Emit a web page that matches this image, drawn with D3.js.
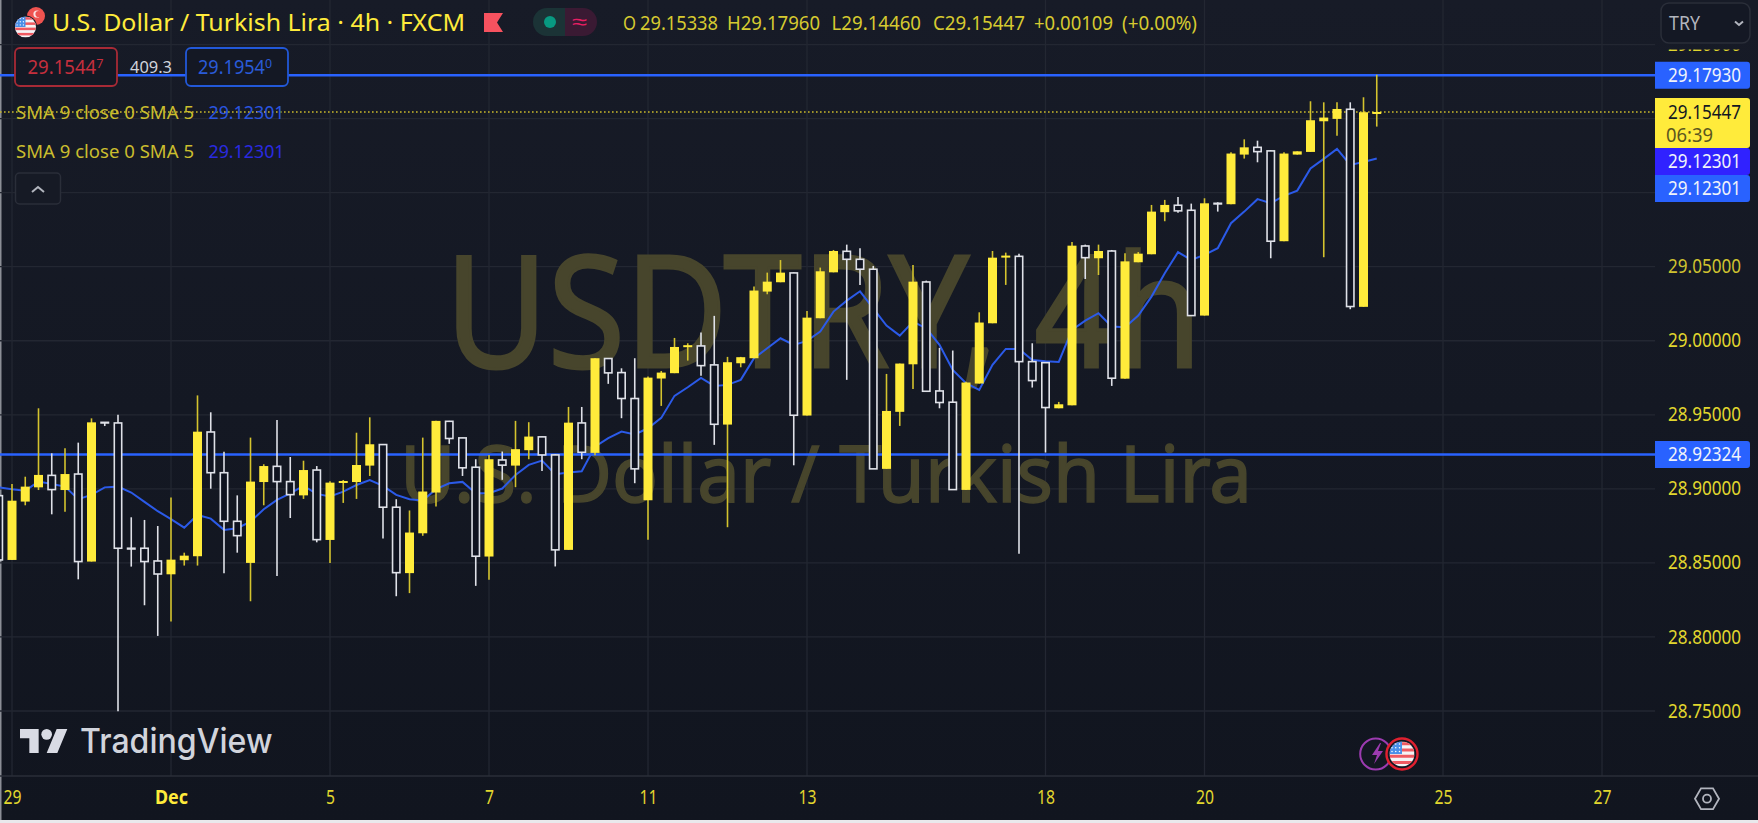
<!DOCTYPE html>
<html><head><meta charset="utf-8">
<script src="https://cdn.jsdelivr.net/npm/d3@7/dist/d3.min.js"></script>
<style>html,body{margin:0;padding:0;background:#e9e9ec;overflow:hidden}svg{display:block}text{font-family:"Noto Sans",sans-serif}</style>
</head><body><svg id="c" width="1758" height="823"></svg>
<script>
const firstBar=-1;
const opens=[28.8954,28.8520,28.8914,28.9010,28.9091,28.8992,28.9100,28.8509,28.9449,28.9445,
28.8599,28.8599,28.8513,28.8423,28.8518,28.8545,28.9384,28.9109,28.8781,28.8500,
28.9046,28.9152,28.9049,28.8956,28.9127,28.8655,28.9046,28.9046,28.9157,28.9299,
28.8876,28.8431,28.8700,28.8975,28.9456,28.9344,28.9146,28.8543,28.9195,28.9157,
28.9261,28.9351,28.9229,28.8588,28.9445,28.9243,28.9880,28.9785,28.9610,28.8923,
28.9745,28.9781,28.9965,28.9965,28.9837,28.9434,28.9848,28.9882,29.0332,29.0395,
29.0458,28.9495,29.0152,29.0462,29.0604,29.0550,29.0483,28.9135,28.9520,28.9841,
29.0397,28.9661,28.9585,28.8993,28.9711,29.0118,29.0568,29.0570,28.9859,28.9852,
28.9544,28.9564,29.0640,29.0557,29.0606,28.9744,29.0530,29.0584,29.0868,29.0915,
29.0881,29.0170,29.0928,29.0922,29.1257,29.1306,29.1282,29.0672,29.1257,29.1275,
29.1482,29.1498,29.1563,29.0229,29.15338];
const highs=[28.8954,28.9033,28.9082,28.9544,28.9240,28.9274,28.9312,28.9476,28.9449,28.9501,
28.8808,28.8790,28.8749,28.8941,28.8569,28.9631,28.9517,28.9251,28.8956,28.9346,
28.9166,28.9465,28.9215,28.9190,28.9154,28.9051,28.9060,28.9379,28.9483,28.9303,
28.8930,28.8854,28.9346,28.9459,28.9459,28.9346,28.9200,28.9229,28.9252,28.9459,
28.9450,28.9353,28.9234,28.9553,28.9553,28.9882,28.9882,28.9814,28.9882,28.9758,
28.9796,29.0019,28.9983,29.0055,29.0168,28.9891,28.9891,29.0366,29.0460,29.0545,
29.0462,29.0201,29.0494,29.0613,29.0649,29.0624,29.0505,28.9776,28.9846,29.0512,
29.0406,28.9952,28.9934,28.9724,29.0192,29.0606,29.0595,29.0588,28.9983,28.9855,
28.9587,29.0667,29.0649,29.0649,29.0613,29.0590,29.0599,29.0917,29.0951,29.0971,
29.0926,29.0962,29.0935,29.1273,29.1360,29.1351,29.1288,29.1273,29.1279,29.1617,
29.1610,29.1610,29.1610,29.1644,29.17960];
const lows=[28.8520,28.8520,28.8889,28.8992,28.8828,28.8846,28.8389,28.8509,28.9424,28.7498,
28.8475,28.8214,28.8007,28.8104,28.8482,28.8482,28.9001,28.8430,28.8569,28.8241,
28.8889,28.8412,28.8803,28.8932,28.8639,28.8500,28.8905,28.8932,28.9087,28.8664,
28.8275,28.8296,28.8683,28.8881,28.9304,28.9087,28.8345,28.8386,28.9061,28.9011,
28.9200,28.9121,28.8476,28.8588,28.9200,28.9227,28.9709,28.9477,28.9038,28.8656,
28.9560,28.9781,28.9866,28.9763,28.9297,28.8741,28.9821,28.9882,29.0314,29.0395,
28.9159,28.9495,29.0152,29.0462,28.9736,29.0377,28.9135,28.9135,28.9425,28.9675,
28.9659,28.9544,28.8995,28.8993,28.9711,29.0118,29.0377,28.8561,28.9684,28.9245,
28.9544,28.9564,29.0417,29.0444,28.9695,28.9744,29.0530,29.0584,29.0807,29.0865,
29.0170,29.0170,29.0872,29.0922,29.1230,29.1205,29.0557,29.0672,29.1257,29.1275,
29.0564,29.1385,29.0213,29.0229,29.14460];
const closes=[28.8520,28.8920,28.9015,28.9094,28.8995,28.9100,28.8509,28.9449,28.9445,28.8599,
28.8594,28.8509,28.8425,28.8522,28.8549,28.9386,28.9109,28.8781,28.8684,28.9049,
28.9154,28.9049,28.8961,28.9127,28.8657,28.9042,28.9053,28.9161,28.9301,28.8876,
28.8434,28.8705,28.8982,28.9459,28.9340,28.9142,28.8545,28.9200,28.9160,28.9268,
28.9353,28.9229,28.8588,28.9447,28.9247,28.9882,28.9783,28.9610,28.9135,28.9751,
28.9785,28.9958,28.9970,28.9832,28.9436,28.9855,28.9889,29.0339,29.0399,29.0460,
28.9497,29.0156,29.0469,29.0606,29.0550,29.0483,28.9135,28.9526,28.9846,29.0399,
28.9659,28.9583,28.8995,28.9718,29.0123,29.0561,29.0575,28.9859,28.9731,28.9549,
28.9571,29.0642,29.0561,29.0606,28.9747,29.0536,29.0588,29.0872,29.0917,29.0877,
29.0170,29.0928,29.0924,29.1264,29.1306,29.1277,29.0672,29.1264,29.1279,29.1489,
29.1507,29.1565,29.0231,29.1543,29.15447];
const sma=[28.9010,28.8997,28.8988,28.9049,28.9033,28.9015,28.8930,28.8959,28.9010,28.9015,
28.8975,28.8912,28.8849,28.8795,28.8738,28.8824,28.8799,28.8723,28.8734,28.8779,
28.8862,28.8925,28.8970,28.9020,28.8966,28.8948,28.8981,28.9026,28.9060,28.9020,
28.8959,28.8930,28.8921,28.8998,28.9038,28.9047,28.8971,28.8971,28.9002,28.9094,
28.9162,28.9191,28.9099,28.9110,28.9119,28.9285,28.9342,28.9387,28.9367,28.9409,
28.9479,28.9628,28.9686,28.9749,28.9695,28.9702,28.9736,28.9882,28.9949,29.0017,
28.9972,28.9999,29.0062,29.0197,29.0271,29.0334,29.0219,29.0102,29.0035,29.0129,
29.0084,28.9972,28.9803,28.9713,28.9668,28.9837,28.9945,28.9945,28.9870,28.9862,
28.9857,29.0073,29.0136,29.0186,29.0096,29.0091,29.0170,29.0298,29.0456,29.0598,
29.0546,29.0580,29.0625,29.0794,29.0872,29.0956,29.0929,29.0978,29.1014,29.1163,
29.1228,29.1295,29.1187,29.1207,29.1230];
const priceTicks=[29.20,29.05,29.00,28.95,28.90,28.85,28.80,28.75];
const gridPrices=[29.20,29.15,29.10,29.05,29.00,28.95,28.90,28.85,28.80,28.75];
const dayIdx=[0,12,24,36,48,60,78,90,108,120];
const dayLabels=["29","Dec","5","7","11","13","18","20","25","27"];
const levels=[29.17930,28.92324];
const lastClose=29.15447, lastSma=29.12301;
const titleText="U.S. Dollar / Turkish Lira · 4h · FXCM";
const ohlcParts=["O","29.15338","H29.17960","L29.14460","C29.15447","+0.00109","(+0.00%)"];
const wm1="USDTRY, 4h", wm2="U.S. Dollar / Turkish Lira";

const svg=d3.select("#c");
const defs=svg.append("defs");
const grad=defs.append("linearGradient").attr("id","bg").attr("x1",0).attr("x2",0).attr("y1",0).attr("y2",1);
grad.append("stop").attr("offset","0").attr("stop-color","#171b27");
grad.append("stop").attr("offset","1").attr("stop-color","#11151f");
defs.append("clipPath").attr("id","axisClip").append("rect").attr("x",1655).attr("y",49.5).attr("width",103).attr("height",730);
defs.append("clipPath").attr("id","usClip1").append("circle").attr("cx",25.5).attr("cy",27).attr("r",10.5);
defs.append("clipPath").attr("id","usClip2").append("circle").attr("cx",1402).attr("cy",754).attr("r",12.5);

const PW=1655,PB=776;
const x=d3.scaleLinear().domain([0,120]).range([12,1602]);
const y=d3.scaleLinear().domain([28.75,29.05]).range([711,266.7]);
const bars=opens.map((o,k)=>({i:k+firstBar,o,h:highs[k],l:lows[k],c:closes[k],s:sma[k]}));

svg.append("rect").attr("width",1758).attr("height",820).attr("fill","url(#bg)");
svg.append("rect").attr("x",0).attr("width",1.5).attr("height",820).attr("fill","#8b8e96");

// grid
const grid=svg.append("g").attr("stroke","#232732").attr("stroke-width",1.3);
grid.selectAll(".h").data(gridPrices).join("line").attr("x1",0).attr("x2",PW).attr("y1",d=>y(d)).attr("y2",d=>y(d));
grid.selectAll(".v").data(dayIdx).join("line").attr("x1",d=>x(d)).attr("x2",d=>x(d)).attr("y1",0).attr("y2",PB);

function T(px,py,s,size,color,len,opt={}){
  const t=svg.append("text").attr("x",px).attr("y",py).text(s).attr("font-size",size).attr("fill",color);
  if(len) t.attr("textLength",len).attr("lengthAdjust","spacingAndGlyphs");
  if(opt.weight) t.attr("font-weight",opt.weight);
  if(opt.family) t.style("font-family",opt.family);
  return t;
}
// watermark
T(445,366.7,wm1,155,"#47452c",757).attr("stroke","#47452c").attr("stroke-width",3);
T(400,501.7,wm2,78,"#47452c",852).attr("stroke","#47452c").attr("stroke-width",1.5);

// horizontal levels + last price
svg.append("line").attr("x1",0).attr("x2",PW).attr("y1",y(lastClose)).attr("y2",y(lastClose))
  .attr("stroke","#c9b92c").attr("stroke-width",1.6).attr("stroke-dasharray","1.6 2.4");
svg.append("g").selectAll("line").data(levels).join("line").attr("x1",0).attr("x2",PW)
  .attr("y1",d=>y(d)).attr("y2",d=>y(d)).attr("stroke","#2962ff").attr("stroke-width",2.4);

// SMA
svg.append("path").datum(bars.filter(b=>b.s!=null)).attr("fill","none").attr("stroke","#2b5ae8").attr("stroke-width",2)
  .attr("d",d3.line().x(b=>x(b.i)).y(b=>y(b.s)));

// candles
const up="#ffeb3b", dn="#dfe1e8", wickUp="#d4c32e", hollow="#0f1320";
const cg=svg.append("g").selectAll("g").data(bars).join("g");
cg.append("line").attr("x1",b=>x(b.i)).attr("x2",b=>x(b.i)).attr("y1",b=>y(b.h)).attr("y2",b=>y(b.l))
  .attr("stroke",b=>b.c>=b.o?wickUp:dn).attr("stroke-width",1.6);
cg.append("rect")
  .attr("x",b=>x(b.i)-(b.c>=b.o?4.5:3.7))
  .attr("width",b=>b.c>=b.o?9:7.4)
  .attr("y",b=>y(Math.max(b.o,b.c)))
  .attr("height",b=>Math.max(b.c>=b.o?2:0.6,Math.abs(y(b.o)-y(b.c))))
  .attr("fill",b=>b.c>=b.o?up:hollow)
  .attr("stroke",b=>b.c>=b.o?"none":dn).attr("stroke-width",1.6);

// right axis
const ya=svg.append("g").attr("clip-path","url(#axisClip)").append("g").attr("transform",`translate(${PW},0)`)
  .call(d3.axisRight(y).tickValues(priceTicks).tickSize(0).tickPadding(13).tickFormat(d3.format(".5f")));
ya.select(".domain").remove();
ya.selectAll("text").attr("font-size",19).attr("fill",d=>d===29.05?"#cfc230":"#e2d72e")
  .attr("textLength",73).attr("lengthAdjust","spacingAndGlyphs").style("font-family",'"Noto Sans",sans-serif');

// bottom axis
svg.append("line").attr("x1",0).attr("x2",1758).attr("y1",PB).attr("y2",PB).attr("stroke","#2a2e39").attr("stroke-width",1.3);
const xa=svg.append("g").attr("transform",`translate(0,${PB})`)
  .call(d3.axisBottom(x).tickValues(dayIdx).tickSize(0).tickPadding(15).tickFormat((d,k)=>dayLabels[k]));
xa.select(".domain").remove();
xa.selectAll("text").attr("font-size",19).attr("fill",(d,k)=>dayLabels[k]==="Dec"?"#ffeb3b":"#e2d72e")
  .attr("font-weight",(d,k)=>dayLabels[k]==="Dec"?700:400)
  .attr("textLength",(d,k)=>dayLabels[k]==="Dec"?33:dayLabels[k].length*9)
  .attr("lengthAdjust","spacingAndGlyphs").style("font-family",'"Noto Sans",sans-serif');

// price labels
function priceTag(y0,y1,fill){svg.append("path").attr("fill",fill)
  .attr("d",`M1655 ${y0}H1747a3 3 0 0 1 3 3V${y1-3}a3 3 0 0 1 -3 3H1655Z`);}
function tagText(cy,s,color){T(1668,cy+6.6,s,19,color,73);}
priceTag(y(levels[0])-13.5,y(levels[0])+13.5,"#2962ff"); tagText(y(levels[0]),d3.format(".5f")(levels[0]),"#f0f3fa");
priceTag(y(levels[1])-13.5,y(levels[1])+13.5,"#2962ff"); tagText(y(levels[1]),d3.format(".5f")(levels[1]),"#f0f3fa");
priceTag(98,148,"#ffeb3b"); tagText(y(lastClose),d3.format(".5f")(lastClose),"#131722");
T(1666,141.5,"06:39",19,"#5b5620",47);
priceTag(148,175,"#3022ff"); tagText(161.5,d3.format(".5f")(lastSma),"#f0f3fa");
priceTag(175,202,"#2962ff"); tagText(188.5,d3.format(".5f")(lastSma),"#f0f3fa");

// TRY button
svg.append("rect").attr("x",1661).attr("y",3).attr("width",89).attr("height",40).attr("rx",8).attr("fill","#141824").attr("stroke","#2a2e39").attr("stroke-width",1.5);
T(1669,30,"TRY",20,"#b2b5be",31);
svg.append("path").attr("d","M1735 21.5l4 3.5 4-3.5").attr("fill","none").attr("stroke","#b2b5be").attr("stroke-width",2);

// header
function usFlag(cx,cy,r,clip){
  const g=svg.append("g").attr("clip-path",`url(#${clip})`);
  g.append("rect").attr("x",cx-r).attr("y",cy-r).attr("width",2*r).attr("height",2*r).attr("fill","#f4f4f6");
  for(let k=0;k<4;k++) g.append("rect").attr("x",cx-r).attr("y",cy-r+r*0.5*k+r*0.06).attr("width",2*r).attr("height",r*0.24).attr("fill","#ef5a62");
  g.append("rect").attr("x",cx-r).attr("y",cy-r).attr("width",r).attr("height",r).attr("fill","#4a90e8");
  for(let a=0;a<3;a++)for(let b=0;b<3;b++) g.append("circle").attr("cx",cx-r*0.8+a*r*0.3).attr("cy",cy-r*0.8+b*r*0.3).attr("r",r*0.06).attr("fill","#fff");
}
svg.append("circle").attr("cx",36).attr("cy",16).attr("r",9).attr("fill","#ef5350");
svg.append("circle").attr("cx",37).attr("cy",14).attr("r",3.6).attr("fill","#fbe3e3");
svg.append("circle").attr("cx",38.5).attr("cy",14).attr("r",3.1).attr("fill","#ef5350");
svg.append("circle").attr("cx",25.5).attr("cy",27).attr("r",11.5).attr("fill","#171b27");
usFlag(25.5,27,10.5,"usClip1");
T(52,31,titleText,23,"#ffeb3b",413);
svg.append("path").attr("d","M484 13H503L497 22.5L503 32H484Z").attr("fill","#f7525f");
svg.append("path").attr("d","M565 8H547a14 14 0 0 0 0 28H565Z").attr("fill","#1b3336");
svg.append("path").attr("d","M565 8H583a14 14 0 0 1 0 28H565Z").attr("fill","#3a1a33");
svg.append("circle").attr("cx",550).attr("cy",22).attr("r",6).attr("fill","#089981");
T(572,29,"≈",21,"#e91e63",15);
const ohlcX=[623,640,727,831.5,933,1034,1122], ohlcW=[13,78,93,89.5,92,79,75];
ohlcParts.forEach((s,k)=>T(ohlcX[k],30,s,19,"#d6ca30",ohlcW[k]));

// buy/sell
function box(x0,w,color){svg.append("rect").attr("x",x0).attr("y",48).attr("width",w).attr("height",38).attr("rx",5).attr("fill","#141824").attr("stroke",color).attr("stroke-width",1.8);}
function quote(px,s,sup,color,len){
  const t=T(px,74,s,19,color,len);
  t.append("tspan").attr("dy",-6).attr("font-size",13).text(sup);
}
box(15,102,"#a82a36"); box(186,102,"#2258d8");
quote(27.5,"29.1544","7","#c52f3d",76);
quote(198,"29.1954","0","#2a5bd8",74);
T(130,73,"409.3",17,"#d1d4dc",42);

// legends
T(16,119,"SMA 9 close 0 SMA 5",18.5,"#cabd2e",178);
T(208.5,119,d3.format(".5f")(lastSma),18.5,"#2a55e0",76);
T(16,158,"SMA 9 close 0 SMA 5",18.5,"#cabd2e",178);
T(208.5,158,d3.format(".5f")(lastSma),18.5,"#2a2ae0",76);
svg.append("rect").attr("x",15.5).attr("y",173).attr("width",45).attr("height",31).attr("rx",4).attr("fill","#161a25").attr("stroke","#2a2e39").attr("stroke-width",1.5);
svg.append("path").attr("d","M32 192l6-5 6 5").attr("fill","none").attr("stroke","#b2b5be").attr("stroke-width",2);

// TV logo
const lg=svg.append("g").attr("transform","translate(20,723.7) scale(1.333)").attr("fill","#d9dbe4");
lg.append("path").attr("d","M14 22H7V11H0V4h14v18zM28 22h-8l7.5-18h8L28 22z");
lg.append("circle").attr("cx",20).attr("cy",8).attr("r",4);
T(80,752.7,"TradingView",34,"#d1d4dc",192.5,{weight:500,family:'Inter,sans-serif'});

// event icons
svg.append("circle").attr("cx",1375.7).attr("cy",754).attr("r",15.5).attr("fill","#131722").attr("stroke","#9c3bb0").attr("stroke-width",2);
svg.append("path").attr("d","M1380 743l-8 12h5l-3 9 9-13h-5l3-8z").attr("fill","#9c3bb0");
svg.append("circle").attr("cx",1402).attr("cy",754).attr("r",15.5).attr("fill","#131722").attr("stroke","#e0202f").attr("stroke-width",2.4);
usFlag(1402,754,12.5,"usClip2");

// gear
const hexR=12;
svg.append("path").attr("d",d3.line()(d3.range(6).map(k=>[1707+hexR*Math.cos(k*Math.PI/3),798.7+hexR*Math.sin(k*Math.PI/3)]))+"Z")
  .attr("fill","none").attr("stroke","#b2b5be").attr("stroke-width",1.8);
svg.append("circle").attr("cx",1707).attr("cy",798.7).attr("r",4).attr("fill","none").attr("stroke","#b2b5be").attr("stroke-width",1.8);
</script>
</body></html>
